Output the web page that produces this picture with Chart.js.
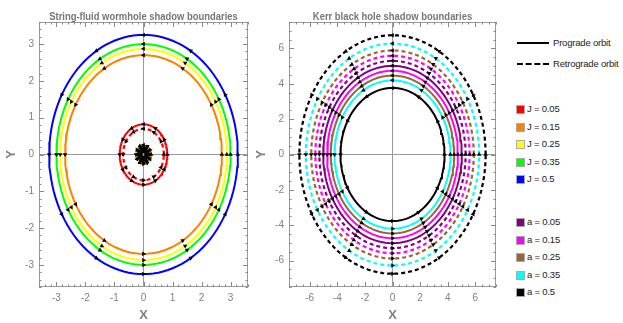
<!DOCTYPE html>
<html>
<head>
<meta charset="utf-8">
<script src="https://cdn.jsdelivr.net/npm/chart.js@4.4.1/dist/chart.umd.min.js"></script>
<style>
  body { margin: 0; background: #fff; width: 623px; height: 323px; position: relative; overflow: hidden;
         font-family: 'Liberation Sans', Arial, sans-serif; }
  #left { position: absolute; left: 0; top: 0; }
  #right { position: absolute; left: 250px; top: 0; }
  .lg { position: absolute; font-size: 9.5px; color: #222; white-space: nowrap; line-height: 10px; letter-spacing: -0.2px; }
  .sw { position: absolute; width: 7px; height: 7px; border: 1px solid #aaa; }
  .ln { position: absolute; width: 32px; height: 0; border-top: 2px solid #000; }
</style>
</head>
<body>
<canvas id="left" width="252" height="323"></canvas>
<canvas id="right" width="250" height="323"></canvas>
<div id="legend"></div>
<script>
// string-fluid wormhole, radii of the shadow rings
const jLabels = ["J = 0.05", "J = 0.15", "J = 0.25", "J = 0.35", "J = 0.5"];
const jColors = ["#ff0000", "#ff8000", "#ffff00", "#00ff00", "#0000ff"];
const jPrograde = [0.82, 2.70, 2.87, 3.00, 3.25];
const jRetrograde = [0.70, 0.26, 0.21, 0.16, 0.09];

// Kerr black hole
const aLabels = ["a = 0.05", "a = 0.15", "a = 0.25", "a = 0.35", "a = 0.5"];
const aColors = ["#800080", "#ff00ff", "#996633", "#00ffff", "#000000"];
const aPrograde = [5.02, 4.74, 4.47, 4.20, 3.77];
const aRetrograde = [5.30, 5.59, 5.89, 6.28, 6.75];

const leftTicks = [-3, -2, -1, 0, 1, 2, 3];
const rightTicks = [-6, -4, -2, 0, 2, 4, 6];
const arrowAngles = [0, 30, 60, 90, 120, 150, 180, 210, 240, 270, 300, 330];

const grey = "#808080";
const font = "'Liberation Sans', Arial, sans-serif";

function ring(r) {
  const pts = [];
  for (let k = 0; k <= 120; k++) {
    const t = k / 120 * Math.PI * 2;
    pts.push({ x: r * Math.cos(t), y: r * Math.sin(t) });
  }
  return pts;
}

function arrows(radii) {
  const pts = [], rot = [];
  radii.forEach(r => {
    arrowAngles.forEach(d => {
      const t = d * Math.PI / 180;
      pts.push({ x: r * Math.cos(t), y: r * Math.sin(t) });
      rot.push(-d);
    });
  });
  return {
    data: pts, showLine: false, pointStyle: "triangle", pointRadius: 2.6,
    pointRotation: rot, backgroundColor: "#000", borderColor: "#000", borderWidth: 0, order: 0
  };
}

function buildSets(colors, pro, retro) {
  const sets = [];
  colors.forEach((c, i) => {
    sets.push({ data: ring(pro[i]), showLine: true, borderColor: c, borderWidth: 2, pointRadius: 0, order: 1 });
    sets.push({ data: ring(retro[i]), showLine: true, borderColor: c, borderWidth: 2.2, borderDash: [4, 3], pointRadius: 0, order: 1 });
  });
  sets.push(arrows(pro.concat(retro)));
  return sets;
}

// Mathematica style frame with inward ticks, plus a condensed title
const framePlugin = {
  id: "frame",
  afterDraw(chart, args, opts) {
    const { ctx, chartArea: a, scales: { x, y } } = chart;
    ctx.save();
    ctx.strokeStyle = "#999";
    ctx.lineWidth = 1;
    ctx.strokeRect(a.left + 0.5, a.top + 0.5, a.width - 1, a.height - 1);
    ctx.strokeStyle = "#888";
    const n0 = Math.ceil(x.min / opts.minor), n1 = Math.floor(x.max / opts.minor);
    for (let n = n0; n <= n1; n++) {
      const len = n % opts.sub === 0 ? 5 : 2.5;
      const px = Math.round(x.getPixelForValue(n * opts.minor)) + 0.5;
      ctx.beginPath();
      ctx.moveTo(px, a.bottom); ctx.lineTo(px, a.bottom - len);
      ctx.moveTo(px, a.top); ctx.lineTo(px, a.top + len);
      ctx.stroke();
    }
    const m0 = Math.ceil(y.min / opts.minor), m1 = Math.floor(y.max / opts.minor);
    for (let n = m0; n <= m1; n++) {
      const len = n % opts.sub === 0 ? 5 : 2.5;
      const py = Math.round(y.getPixelForValue(n * opts.minor)) + 0.5;
      ctx.beginPath();
      ctx.moveTo(a.left, py); ctx.lineTo(a.left + len, py);
      ctx.moveTo(a.right, py); ctx.lineTo(a.right - len, py);
      ctx.stroke();
    }
    // title
    ctx.translate((a.left + a.right) / 2, 19.5);
    ctx.scale(0.82, 1);
    ctx.font = "bold 11.5px " + font;
    ctx.fillStyle = "#777";
    ctx.textAlign = "center";
    ctx.textBaseline = "alphabetic";
    ctx.fillText(opts.title, 0, 0);
    ctx.restore();
  }
};

function makeChart(id, title, sets, lim, ticks, minor, sub) {
  const axis = (t, isY) => ({
    type: "linear", min: -lim, max: lim,
    afterBuildTicks: s => { s.ticks = ticks.map(v => ({ value: v })); },
    afterFit: s => { if (isY) s.width = 39; else s.height = 36; },
    grid: { drawTicks: false, color: c => c.tick && c.tick.value === 0 ? "#999" : "transparent", lineWidth: 1 },
    border: { display: false },
    ticks: { color: grey, font: { family: font, size: 10 }, padding: 5 },
    title: { display: true, text: t, color: grey, font: { family: font, size: 13, weight: "bold" }, padding: isY ? { top: 4, bottom: 0 } : { top: 0, bottom: 0 } }
  });
  return new Chart(document.getElementById(id), {
    type: "scatter",
    data: { datasets: sets },
    options: {
      responsive: false, animation: false,
      layout: { padding: { left: 0, right: 3, top: 22, bottom: 0 } },
      plugins: {
        legend: { display: false }, tooltip: { enabled: false },
        title: { display: false },
        frame: { minor: minor, sub: sub, title: title }
      },
      scales: { x: axis("X", false), y: axis("Y", true) }
    },
    plugins: [framePlugin]
  });
}

makeChart("left", "String-fluid wormhole shadow boundaries", buildSets(jColors, jPrograde, jRetrograde), 3.6, leftTicks, 0.2, 5);
makeChart("right", "Kerr black hole shadow boundaries", buildSets(aColors, aPrograde, aRetrograde), 7.5, rightTicks, 0.5, 4);

// legend on the right
const lg = document.getElementById("legend");
function add(html) { lg.insertAdjacentHTML("beforeend", html); }
add('<div class="ln" style="left:517px;top:42px"></div><div class="lg" style="left:553px;top:38px">Prograde orbit</div>');
add('<div class="ln" style="left:517px;top:63px;border-top-style:dashed"></div><div class="lg" style="left:553px;top:59px">Retrograde orbit</div>');
jLabels.forEach((l, i) => {
  const top = 105 + i * 17.5;
  add(`<div class="sw" style="left:516px;top:${top}px;background:${jColors[i]}"></div><div class="lg" style="left:527px;top:${top - 1}px">${l}</div>`);
});
aLabels.forEach((l, i) => {
  const top = 218 + i * 17.5;
  add(`<div class="sw" style="left:516px;top:${top}px;background:${aColors[i]}"></div><div class="lg" style="left:527px;top:${top - 1}px">${l}</div>`);
});
</script>
</body>
</html>
